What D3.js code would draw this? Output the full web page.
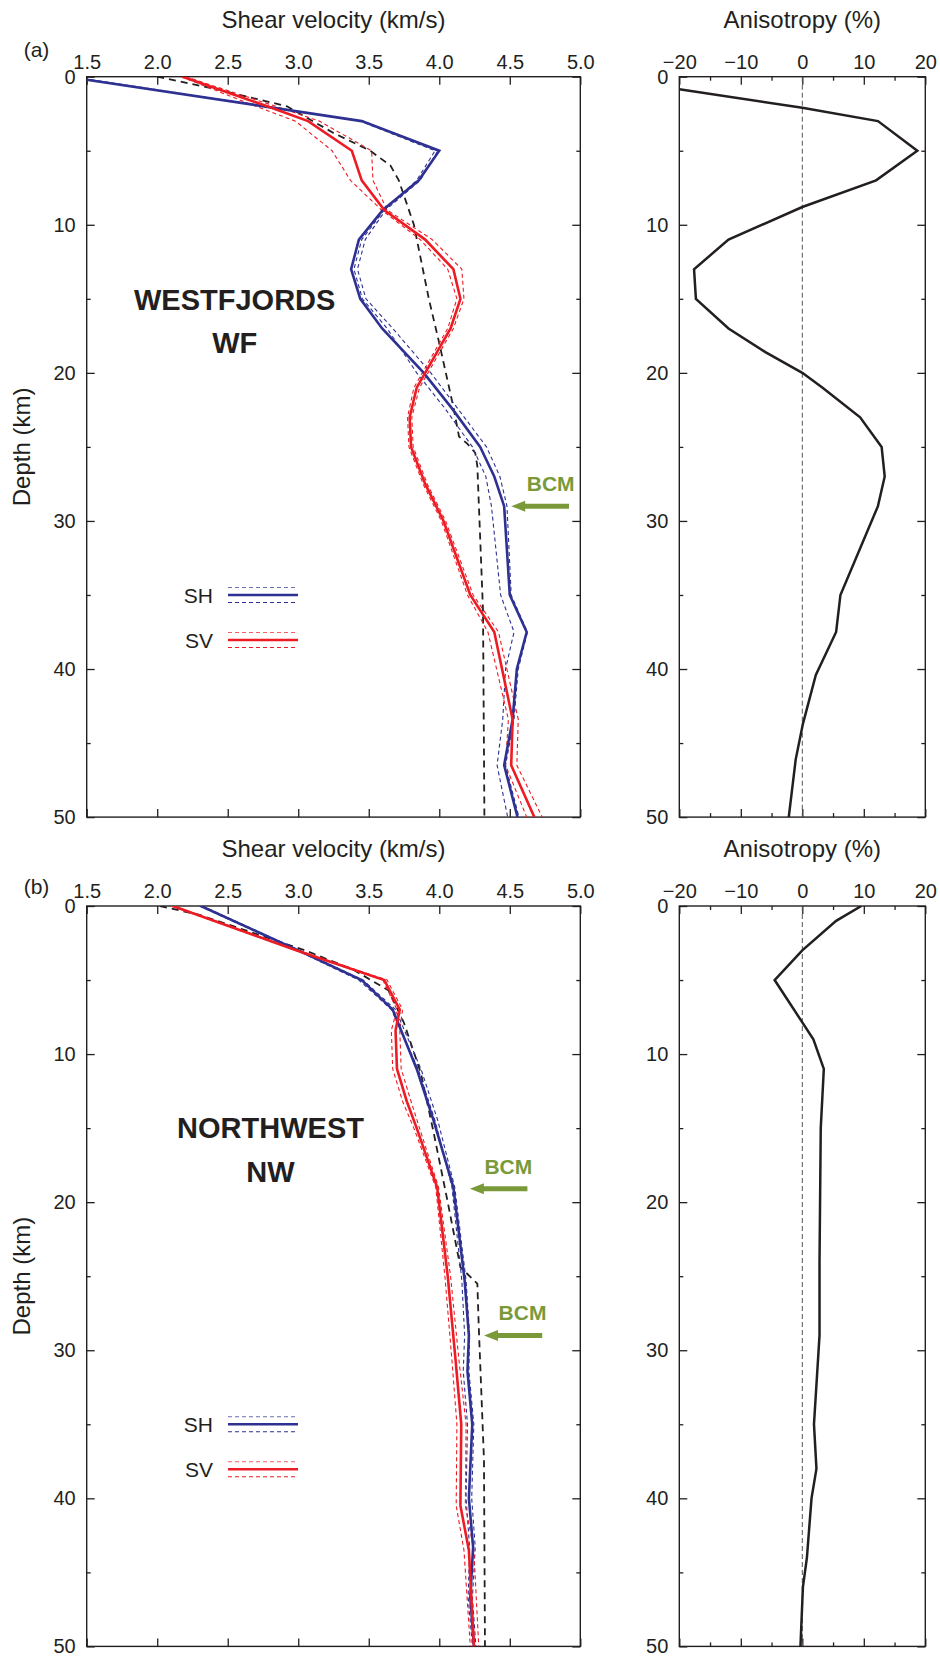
<!DOCTYPE html>
<html><head><meta charset="utf-8">
<script src="https://cdn.jsdelivr.net/npm/d3@7/dist/d3.min.js"></script>
<style>
body{margin:0;background:#fff;}
svg text{font-family:"Liberation Sans",Arial,Helvetica,sans-serif;fill:#231f20;}
</style></head>
<body><svg id="c" width="940" height="1660"></svg>
<script>
// ---------------- DATA ----------------
// Panel (a) WESTFJORDS
const shDepthA = [0.2, 3, 5, 7, 9, 11, 13, 15, 17, 20, 22.4, 25, 27, 29, 35, 37.5, 40, 43.4, 46.5, 50];
const shA      = [1.5, 3.45, 4.0, 3.855, 3.6, 3.43, 3.375, 3.44, 3.595, 3.89, 4.09, 4.29, 4.39, 4.46, 4.5, 4.62, 4.55, 4.52, 4.46, 4.555];
const shA1     = [1.51, 3.44, 3.97, 3.84, 3.61, 3.45, 3.395, 3.455, 3.63, 3.84, 4.04, 4.235, 4.33, 4.37, 4.435, 4.53, 4.47, 4.45, 4.41, 4.485];
const shA2     = [1.53, 3.46, 3.99, 3.865, 3.62, 3.475, 3.42, 3.48, 3.67, 3.94, 4.13, 4.335, 4.43, 4.48, 4.51, 4.625, 4.56, 4.53, 4.47, 4.565];

const svDepthA = [0, 2, 3, 5, 7, 9, 11, 13, 15, 17, 20, 21, 23, 25, 27.5, 30, 35, 37.5, 43.4, 46.5, 50];
const svA      = [2.18, 2.78, 3.07, 3.38, 3.45, 3.61, 3.90, 4.10, 4.15, 4.08, 3.90, 3.84, 3.79, 3.80, 3.90, 4.03, 4.22, 4.39, 4.52, 4.51, 4.674];
const svA1     = [2.17, 2.70, 2.98, 3.24, 3.37, 3.59, 3.865, 4.06, 4.125, 4.06, 3.88, 3.82, 3.775, 3.785, 3.885, 4.015, 4.20, 4.345, 4.49, 4.47, 4.62];
const svA2     = [2.20, 2.84, 3.15, 3.52, 3.53, 3.63, 3.95, 4.16, 4.175, 4.10, 3.92, 3.86, 3.805, 3.815, 3.915, 4.045, 4.24, 4.42, 4.56, 4.55, 4.73];

const refDepthA = [0, 0.8, 2, 3.8, 5, 6, 7, 10, 15, 18, 22.3, 24.3, 24.8, 25.4, 26.3, 36, 50];
const refA      = [2.0, 2.4, 2.92, 3.25, 3.51, 3.654, 3.713, 3.82, 3.926, 4.0, 4.10, 4.14, 4.20, 4.255, 4.27, 4.31, 4.32];

const aniDepthA = [0.85, 2.1, 3, 5, 7, 8.8, 11, 13, 15, 17, 18.6, 20, 21, 23, 25, 27, 29, 35, 37.5, 40.4, 43.7, 46.1, 50];
const aniA      = [-20, 0, 12.3, 18.7, 12, 0, -12, -17.6, -17.3, -12, -6, 0, 3.3, 9.4, 12.9, 13.4, 12.3, 6.2, 5.5, 2.2, 0.1, -1.07, -2.2];

// Panel (b) NORTHWEST
const shDepthB = [0, 3, 5, 7, 11, 14.5, 19, 25.3, 29, 31.4, 35, 40, 43.3, 46.7, 50];
const shB      = [2.31, 3.0, 3.45, 3.67, 3.84, 3.96, 4.10, 4.18, 4.21, 4.20, 4.234, 4.21, 4.24, 4.22, 4.246];
const shB1     = [2.30, 2.99, 3.43, 3.66, 3.85, 3.97, 4.09, 4.16, 4.18, 4.17, 4.20, 4.19, 4.215, 4.205, 4.235];
const shB2     = [2.32, 3.01, 3.46, 3.69, 3.87, 3.99, 4.11, 4.19, 4.215, 4.21, 4.245, 4.23, 4.255, 4.235, 4.26];

const svDepthB = [0, 3, 5, 7, 8.4, 11, 13.2, 15, 19, 25, 30.7, 35, 40.5, 43.5, 50];
const svB      = [2.11, 2.99, 3.61, 3.72, 3.69, 3.70, 3.77, 3.84, 3.985, 4.06, 4.116, 4.156, 4.15, 4.21, 4.246];
const svB1     = [2.10, 2.98, 3.60, 3.70, 3.66, 3.67, 3.74, 3.82, 3.975, 4.04, 4.09, 4.125, 4.12, 4.175, 4.22];
const svB2     = [2.12, 3.00, 3.63, 3.74, 3.72, 3.73, 3.80, 3.86, 3.995, 4.08, 4.14, 4.19, 4.185, 4.245, 4.28];

const refDepthB = [0, 0.6, 3, 4.3, 5.7, 7.9, 11.3, 15.3, 20, 24.4, 25.5, 28.4, 37.4, 50];
const refB      = [2.02, 2.3, 3.05, 3.39, 3.64, 3.75, 3.87, 3.96, 4.06, 4.15, 4.27, 4.28, 4.317, 4.324];

const aniDepthB = [0, 1, 3, 5, 9, 11, 15, 24, 29, 35, 38, 40, 44, 46, 50];
const aniB      = [9.6, 5.5, 0, -4.5, 1.8, 3.5, 3.0, 2.8, 2.8, 1.9, 2.3, 1.5, 0.75, 0.1, -0.3];

// BCM annotations (depth, arrow tip velocity, arrow tail velocity, label velocity)
const bcmDepthA = [29],        bcmTipA = [4.51],        bcmTailA = [4.92],       bcmLabelA = [4.79];
const bcmDepthB = [19.1, 29],  bcmTipB = [4.217, 4.317], bcmTailB = [4.625, 4.73], bcmLabelB = [4.49, 4.59];

// Axis ticks
const velTicks = [1.5, 2.0, 2.5, 3.0, 3.5, 4.0, 4.5, 5.0];
const depthMajor = [0, 10, 20, 30, 40, 50];
const depthMinor = [5, 15, 25, 35, 45];
const aniMajor = [-20, -10, 0, 10, 20];
const aniMinor = [-15, -5, 5, 15];

// ---------------- DRAW ----------------
const BLUE = "#2e3192", RED = "#ed1c24", INK = "#231f20", GREEN = "#7a9a3a";
const svg = d3.select("#c");
const xV = d3.scaleLinear().domain([1.5, 5]).range([86.7, 580.3]);
const xA = d3.scaleLinear().domain([-20, 20]).range([679.3, 925.3]);

const zip = (ds, vs) => ds.map((d, i) => ({d, v: vs[i]}));

const panels = [
  {top: 76.7, letter: "(a)", letterY: 57, name: ["WESTFJORDS", "WF"], nameX: 234.7, nameY: [310, 353.3],
   sh: [shDepthA, shA, shA1, shA2], sv: [svDepthA, svA, svA1, svA2], ref: [refDepthA, refA], ani: [aniDepthA, aniA],
   bcm: [bcmDepthA, bcmTipA, bcmTailA, bcmLabelA]},
  {top: 906, letter: "(b)", letterY: 894, name: ["NORTHWEST", "NW"], nameX: 270.5, nameY: [1138.3, 1181.7],
   sh: [shDepthB, shB, shB1, shB2], sv: [svDepthB, svB, svB1, svB2], ref: [refDepthB, refB], ani: [aniDepthB, aniB],
   bcm: [bcmDepthB, bcmTipB, bcmTailB, bcmLabelB]}
];

panels.forEach((p, pi) => {
  const y = d3.scaleLinear().domain([0, 50]).range([p.top, p.top + 740.4]);
  const g = svg.append("g");

  const clipL = "clipL" + pi, clipR = "clipR" + pi;
  const defs = svg.append("defs");
  defs.append("clipPath").attr("id", clipL).append("rect")
    .attr("x", xV.range()[0]).attr("y", y.range()[0]).attr("width", xV.range()[1] - xV.range()[0]).attr("height", y.range()[1] - y.range()[0]);
  defs.append("clipPath").attr("id", clipR).append("rect")
    .attr("x", xA.range()[0]).attr("y", y.range()[0]).attr("width", xA.range()[1] - xA.range()[0]).attr("height", y.range()[1] - y.range()[0]);

  function frame(x, majorX, minorX, fmtX) {
    const [x0, x1] = x.range(), [y0, y1] = y.range();
    const ax = g.append("g").attr("class", "axis");
    ax.append("g").attr("transform", `translate(0,${y0})`)
      .call(d3.axisTop(x).tickValues(majorX).tickSize(-8).tickPadding(8).tickFormat(fmtX));
    ax.append("g").attr("transform", `translate(0,${y1})`)
      .call(d3.axisBottom(x).tickValues(majorX).tickSize(-8).tickFormat(""));
    if (minorX) {
      ax.append("g").attr("transform", `translate(0,${y0})`)
        .call(d3.axisTop(x).tickValues(minorX).tickSize(-4).tickFormat(""));
      ax.append("g").attr("transform", `translate(0,${y1})`)
        .call(d3.axisBottom(x).tickValues(minorX).tickSize(-4).tickFormat(""));
    }
    ax.append("g").attr("transform", `translate(${x0},0)`)
      .call(d3.axisLeft(y).tickValues(depthMajor).tickSize(-8).tickPadding(11).tickFormat(d3.format("d")));
    ax.append("g").attr("transform", `translate(${x0},0)`)
      .call(d3.axisLeft(y).tickValues(depthMinor).tickSize(-4).tickFormat(""));
    ax.append("g").attr("transform", `translate(${x1},0)`)
      .call(d3.axisRight(y).tickValues(depthMajor).tickSize(-8).tickFormat(""));
    ax.append("g").attr("transform", `translate(${x1},0)`)
      .call(d3.axisRight(y).tickValues(depthMinor).tickSize(-4).tickFormat(""));
    ax.selectAll(".domain").remove();
    ax.selectAll(".tick line").attr("stroke", INK).attr("stroke-width", 1.3);
    ax.selectAll(".tick text").style("font-size", "20px").attr("fill", INK);
    g.append("rect").attr("x", x0).attr("y", y0).attr("width", x1 - x0).attr("height", y1 - y0)
      .attr("fill", "none").attr("stroke", INK).attr("stroke-width", 1.4);
  }
  frame(xV, velTicks, null, d3.format(".1f"));
  frame(xA, aniMajor, aniMinor, d3.format("d"));

  g.append("text").attr("x", (xV.range()[0] + xV.range()[1]) / 2).attr("y", p.top - 48.7)
    .attr("text-anchor", "middle").style("font-size", "24px").text("Shear velocity (km/s)");
  g.append("text").attr("x", (xA.range()[0] + xA.range()[1]) / 2).attr("y", p.top - 48.7)
    .attr("text-anchor", "middle").style("font-size", "24px").text("Anisotropy (%)");
  g.append("text").attr("transform", `translate(29.5,${(y.range()[0] + y.range()[1]) / 2}) rotate(-90)`)
    .attr("text-anchor", "middle").style("font-size", "24px").text("Depth (km)");
  g.append("text").attr("x", 36.5).attr("y", p.letterY).attr("text-anchor", "middle")
    .style("font-size", "21px").text(p.letter);

  const lineV = d3.line().x(d => xV(d.v)).y(d => y(d.d));
  const cg = g.append("g").attr("clip-path", `url(#${clipL})`);
  const dashed = (ds, vs, col, w, da) => cg.append("path").datum(zip(ds, vs)).attr("d", lineV)
      .attr("fill", "none").attr("stroke", col).attr("stroke-width", w).attr("stroke-dasharray", da);
  dashed(p.ref[0], p.ref[1], INK, 1.8, "7,5");
  dashed(p.sh[0], p.sh[2], BLUE, 1.1, "4,3");
  dashed(p.sh[0], p.sh[3], BLUE, 1.1, "4,3");
  dashed(p.sv[0], p.sv[2], RED, 1.1, "4,3");
  dashed(p.sv[0], p.sv[3], RED, 1.1, "4,3");
  cg.append("path").datum(zip(p.sh[0], p.sh[1])).attr("d", lineV)
    .attr("fill", "none").attr("stroke", BLUE).attr("stroke-width", 2.6).attr("stroke-linejoin", "miter");
  cg.append("path").datum(zip(p.sv[0], p.sv[1])).attr("d", lineV)
    .attr("fill", "none").attr("stroke", RED).attr("stroke-width", 2.6).attr("stroke-linejoin", "miter");

  const ag = g.append("g").attr("clip-path", `url(#${clipR})`);
  ag.append("line").attr("x1", xA(0)).attr("x2", xA(0)).attr("y1", y(0)).attr("y2", y(50))
    .attr("stroke", "#555").attr("stroke-width", 1).attr("stroke-dasharray", "5,3");
  const lineA = d3.line().x(d => xA(d.v)).y(d => y(d.d));
  ag.append("path").datum(zip(p.ani[0], p.ani[1])).attr("d", lineA)
    .attr("fill", "none").attr("stroke", INK).attr("stroke-width", 2.5);

  p.name.forEach((t, i) => g.append("text").attr("x", p.nameX).attr("y", p.nameY[i])
    .attr("text-anchor", "middle").style("font-size", "29px").style("font-weight", "bold").text(t));

  const legY = [y(0) + 518.3, y(0) + 563.3];
  [["SH", BLUE], ["SV", RED]].forEach(([lab, col], i) => {
    const ly = legY[i];
    g.append("text").attr("x", 213).attr("y", ly + 8).attr("text-anchor", "end")
      .style("font-size", "21px").text(lab);
    g.append("line").attr("x1", 228).attr("x2", 298).attr("y1", ly).attr("y2", ly)
      .attr("stroke", col).attr("stroke-width", 2.6);
    [-7.5, 7.5].forEach(off => g.append("line").attr("x1", 228).attr("x2", 298)
      .attr("y1", ly + off).attr("y2", ly + off).attr("stroke", col).attr("stroke-width", 1.1)
      .attr("stroke-dasharray", "4,3").attr("opacity", off < 0 ? 0.7 : 1));
  });

  const [bd, btip, btail, blab] = p.bcm;
  bd.forEach((dd, i) => {
    const yy = y(dd), xt = xV(btip[i]), xe = xV(btail[i]);
    g.append("line").attr("x1", xt + 12).attr("x2", xe).attr("y1", yy).attr("y2", yy)
      .attr("stroke", GREEN).attr("stroke-width", 5);
    g.append("path").attr("d", `M${xt},${yy} L${xt + 14},${yy - 5.5} L${xt + 14},${yy + 5.5} Z`).attr("fill", GREEN);
    g.append("text").attr("x", xV(blab[i])).attr("y", yy - 15).attr("text-anchor", "middle")
      .style("font-size", "21px").style("font-weight", "bold").style("fill", GREEN).text("BCM");
  });
});
</script></body></html>
